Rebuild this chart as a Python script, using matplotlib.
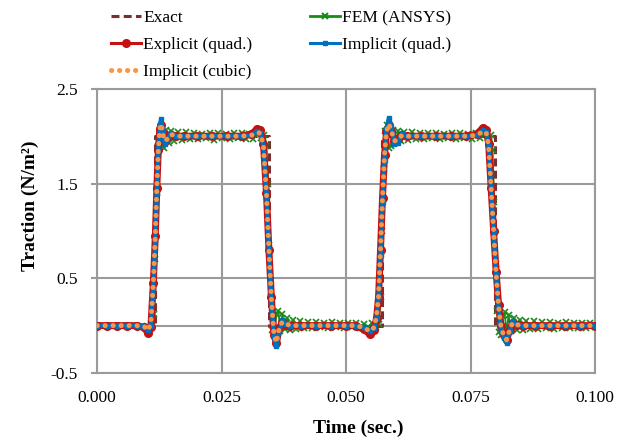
import matplotlib
matplotlib.use("Agg")
import matplotlib.pyplot as plt
from matplotlib.lines import Line2D

plt.rcParams["font.family"] = ["Liberation Serif", "DejaVu Serif"]
plt.rcParams["axes.unicode_minus"] = False

# exact solution: rectangular traction pulses
EXACT_T = [0.0, 0.0117, 0.0117, 0.0345, 0.0345, 0.0572, 0.0572, 0.0799, 0.0799, 0.1]
EXACT_Y = [0.0, 0.0, 2.0, 2.0, 0.0, 0.0, 2.0, 2.0, 0.0, 0.0]

# ANSYS FEM output
FEM_T = [0.000, 0.002, 0.004, 0.006, 0.008, 0.010, 0.0110, 0.0114, 0.0117, 0.0120,
         0.0123, 0.0127, 0.0131, 0.0135, 0.0139, 0.0144, 0.0149, 0.0155, 0.0162, 0.0170,
         0.0178, 0.0186, 0.0194, 0.0202, 0.0210, 0.0218, 0.0226, 0.0234, 0.0242, 0.0250,
         0.0258, 0.0266, 0.0274, 0.0282, 0.0290, 0.0298, 0.0306, 0.0314, 0.0322, 0.0330,
         0.0336, 0.0340, 0.0343, 0.0346, 0.0349, 0.0352, 0.0356, 0.0360, 0.0364, 0.0368,
         0.0372, 0.0377, 0.0382, 0.0388, 0.0394, 0.0400, 0.0408, 0.0416, 0.0424, 0.0432,
         0.0440, 0.0448, 0.0456, 0.0464, 0.0472, 0.0480, 0.0488, 0.0496, 0.0504, 0.0512,
         0.0520, 0.0528, 0.0536, 0.0544, 0.0552, 0.0560, 0.0566, 0.0569, 0.0572, 0.0575,
         0.0578, 0.0582, 0.0586, 0.0590, 0.0594, 0.0599, 0.0604, 0.0610, 0.0617, 0.0625,
         0.0633, 0.0641, 0.0649, 0.0657, 0.0665, 0.0673, 0.0681, 0.0689, 0.0697, 0.0705,
         0.0713, 0.0721, 0.0729, 0.0737, 0.0745, 0.0753, 0.0761, 0.0769, 0.0777, 0.0785,
         0.0791, 0.0794, 0.0797, 0.0800, 0.0803, 0.0806, 0.0810, 0.0814, 0.0818, 0.0822,
         0.0826, 0.0831, 0.0836, 0.0842, 0.0848, 0.0855, 0.0862, 0.0870, 0.0878, 0.0886,
         0.0894, 0.0902, 0.0910, 0.0918, 0.0926, 0.0934, 0.0942, 0.0950, 0.0958, 0.0966,
         0.0974, 0.0982, 0.0990, 0.1000]
FEM_Y = [0.00, 0.00, 0.00, 0.00, 0.00, 0.00, 0.00, 0.12, 0.70, 1.40,
         1.95, 2.07, 1.90, 1.87, 2.06, 1.93, 2.05, 1.95, 2.04, 1.96,
         2.04, 1.97, 2.03, 1.97, 2.02, 1.98, 2.03, 1.96, 2.03, 1.98,
         2.02, 1.97, 2.03, 1.98, 2.03, 1.97, 2.02, 1.97, 2.03, 1.98,
         2.01, 1.90, 1.50, 0.85, 0.30, -0.05, -0.08, 0.12, 0.15, -0.06,
         0.12, -0.04, 0.08, -0.05, 0.06, -0.04, 0.05, -0.03, 0.04, -0.03,
         0.04, -0.02, 0.03, -0.03, 0.04, -0.02, 0.03, -0.03, 0.03, -0.02,
         0.03, -0.03, 0.02, -0.02, 0.03, -0.02, 0.02, 0.30, 1.00, 1.65,
         2.05, 2.12, 1.88, 1.90, 2.07, 1.93, 2.05, 1.95, 2.04, 1.96,
         2.04, 1.97, 2.03, 1.97, 2.03, 1.98, 2.03, 1.97, 2.02, 1.98,
         2.03, 1.97, 2.03, 1.98, 2.02, 1.97, 2.03, 1.98, 2.02, 1.98,
         2.01, 1.85, 1.30, 0.65, 0.15, -0.07, -0.10, 0.10, 0.14, -0.07,
         0.11, -0.06, 0.08, -0.05, 0.06, -0.05, 0.05, -0.04, 0.05, -0.04,
         0.04, -0.03, 0.04, -0.04, 0.03, -0.03, 0.04, -0.03, 0.03, -0.03,
         0.03, -0.03, 0.03, -0.01]

# time steps shared by the three integration schemes
NUM_T = [0.0000, 0.0020, 0.0040, 0.0060, 0.0080, 0.0095, 0.0102, 0.0108, 0.0113, 0.0117,
         0.0120, 0.0123, 0.0126, 0.0129, 0.0132, 0.0136, 0.0141, 0.0148, 0.0158, 0.0175,
         0.0200, 0.0230, 0.0260, 0.0290, 0.0310, 0.0322, 0.0328, 0.0334, 0.0340, 0.0345,
         0.0350, 0.0355, 0.0360, 0.0366, 0.0372, 0.0379, 0.0388, 0.0410, 0.0440, 0.0470,
         0.0500, 0.0520, 0.0535, 0.0548, 0.0556, 0.0561, 0.0565, 0.0569, 0.0573, 0.0577,
         0.0581, 0.0586, 0.0591, 0.0597, 0.0604, 0.0612, 0.0622, 0.0650, 0.0680, 0.0710,
         0.0740, 0.0762, 0.0775, 0.0781, 0.0786, 0.0791, 0.0796, 0.0801, 0.0806, 0.0811,
         0.0816, 0.0822, 0.0828, 0.0834, 0.0842, 0.0855, 0.0880, 0.0910, 0.0940, 0.0970,
         0.1000]
EXPLICIT_QUAD = [0.00, 0.00, 0.00, 0.00, 0.00, -0.02, -0.08, -0.02, 0.45, 0.95,
                 1.45, 1.85, 2.08, 2.12, 2.03, 1.95, 1.98, 2.01, 2.00, 2.00,
                 2.00, 2.00, 2.00, 2.00, 2.02, 2.08, 2.06, 1.92, 1.40, 0.80,
                 0.30, -0.10, -0.18, -0.03, 0.04, 0.01, 0.00, 0.00, 0.00, 0.00,
                 0.00, 0.00, -0.04, -0.09, -0.05, 0.08, 0.30, 0.80, 1.35, 1.80,
                 2.05, 2.12, 2.05, 1.95, 1.97, 2.01, 2.00, 2.00, 2.00, 2.00,
                 2.00, 2.02, 2.09, 2.07, 1.92, 1.45, 1.00, 0.57, 0.22, 0.00,
                 -0.10, -0.15, -0.05, 0.03, 0.01, 0.00, 0.00, 0.00, 0.00, 0.00,
                 0.00]
IMPLICIT_QUAD = [0.00, 0.00, 0.00, 0.00, 0.00, -0.01, -0.05, 0.00, 0.40, 0.90,
                 1.40, 1.85, 2.12, 2.18, 2.05, 1.92, 1.96, 2.03, 2.00, 2.00,
                 2.00, 2.00, 2.00, 2.00, 2.01, 2.05, 2.03, 1.90, 1.40, 0.80,
                 0.25, -0.12, -0.22, -0.05, 0.06, 0.02, 0.00, 0.00, 0.00, 0.00,
                 0.00, 0.00, -0.02, -0.06, -0.03, 0.08, 0.30, 0.75, 1.30, 1.75,
                 2.08, 2.19, 2.10, 1.92, 1.93, 2.03, 2.00, 2.00, 2.00, 2.00,
                 2.00, 2.01, 2.06, 2.04, 1.90, 1.45, 1.00, 0.55, 0.18, -0.04,
                 -0.13, -0.18, -0.06, 0.05, 0.01, 0.00, 0.00, 0.00, 0.00, 0.00,
                 0.00]
IMPLICIT_CUBIC = [0.00, 0.00, 0.00, 0.00, 0.00, -0.01, -0.05, 0.02, 0.45, 0.95,
                  1.45, 1.85, 2.08, 2.13, 2.02, 1.95, 1.97, 2.02, 2.00, 2.00,
                  2.00, 2.00, 2.00, 2.00, 2.01, 2.04, 2.03, 1.90, 1.40, 0.80,
                  0.28, -0.08, -0.18, -0.02, 0.04, 0.02, 0.00, 0.00, 0.00, 0.00,
                  0.00, 0.00, -0.02, -0.06, -0.02, 0.10, 0.30, 0.80, 1.35, 1.80,
                  2.05, 2.13, 2.05, 1.95, 1.96, 2.01, 2.00, 2.00, 2.00, 2.00,
                  2.00, 2.01, 2.05, 2.04, 1.90, 1.45, 1.00, 0.55, 0.20, -0.02,
                  -0.10, -0.15, -0.05, 0.03, 0.01, 0.00, 0.00, 0.00, 0.00, 0.00,
                  0.00]

X_TICKS = [0.0, 0.025, 0.05, 0.075, 0.1]
Y_TICKS = [-0.5, 0.5, 1.5, 2.5]
GRID = "#9a9a9a"

C_EXACT, C_FEM, C_EXPL = "#7a2e2e", "#1a8a1a", "#c81010"
C_IMPQ, C_IMPC = "#0070c0", "#f79646"
EXACT_LS = (0, (2.6, 1.4))
CUBIC_LS = (0, (0.05, 1.55))

fig = plt.figure(figsize=(6.22, 4.44), dpi=100)
ax = fig.add_axes([0.156, 0.160, 0.801, 0.640])

ax.plot(EXACT_T, EXACT_Y, color=C_EXACT, lw=2.2, linestyle=EXACT_LS, zorder=3)
ax.plot(FEM_T, FEM_Y, color=C_FEM, lw=1.3, marker="x", ms=4.5, mew=1.2, zorder=4)
ax.plot(NUM_T, EXPLICIT_QUAD, color=C_EXPL, lw=5.0, marker="o", ms=5.5, zorder=5)
ax.plot(NUM_T, IMPLICIT_QUAD, color=C_IMPQ, lw=3.2, marker="s", ms=3.5, zorder=6)
ax.plot(NUM_T, IMPLICIT_CUBIC, color=C_IMPC, lw=3.6, linestyle=CUBIC_LS,
        dash_capstyle="round", zorder=7)

ax.set_xlim(0, 0.1)
ax.set_ylim(-0.5, 2.5)
ax.set_xticks(X_TICKS)
ax.set_xticklabels([f"{v:.3f}" for v in X_TICKS])
ax.set_yticks(Y_TICKS)
ax.set_yticklabels([f"{v:.1f}" for v in Y_TICKS])
ax.tick_params(axis="x", length=0, pad=12, labelsize=12.5)
ax.tick_params(axis="y", length=4, width=1.5, color=GRID, pad=10, labelsize=12.5)

ax.grid(True, color=GRID, lw=1.5)
ax.axhline(0, color=GRID, lw=1.5, zorder=1)
for s in ax.spines.values():
    s.set_color(GRID)
    s.set_linewidth(1.5)
ax.set_axisbelow(True)

ax.set_xlabel("Time (sec.)", fontsize=14, fontweight="bold")
ax.xaxis.set_label_coords(0.524, -0.166)
ax.set_ylabel("Traction (N/m²)", fontsize=14, fontweight="bold")
ax.yaxis.set_label_coords(-0.116, 0.59)

# legend entries, filled row by row in two columns
h_exact = Line2D([], [], color=C_EXACT, lw=2.2, linestyle=EXACT_LS)
h_fem = Line2D([], [], color=C_FEM, lw=2.0, marker="x", ms=4.5, mew=1.5)
h_expl = Line2D([], [], color=C_EXPL, lw=2.2, marker="o", ms=5.5)
h_impq = Line2D([], [], color=C_IMPQ, lw=2.2, marker="s", ms=3.5)
h_impc = Line2D([], [], color=C_IMPC, lw=3.6, linestyle=CUBIC_LS, dash_capstyle="round")
handles = [h_exact, h_expl, h_impc, h_fem, h_impq]
labels = ["Exact", "Explicit (quad.)", "Implicit (cubic)", "FEM (ANSYS)", "Implicit (quad.)"]
fig.legend(handles, labels, loc="upper left", bbox_to_anchor=(111 / 622, 1 - 10 / 444),
           ncol=2, frameon=False, fontsize=12.5, handlelength=1.75, handletextpad=0.1,
           columnspacing=3.3, labelspacing=0.62, borderpad=0, borderaxespad=0)

fig.savefig("out.png", dpi=100)
